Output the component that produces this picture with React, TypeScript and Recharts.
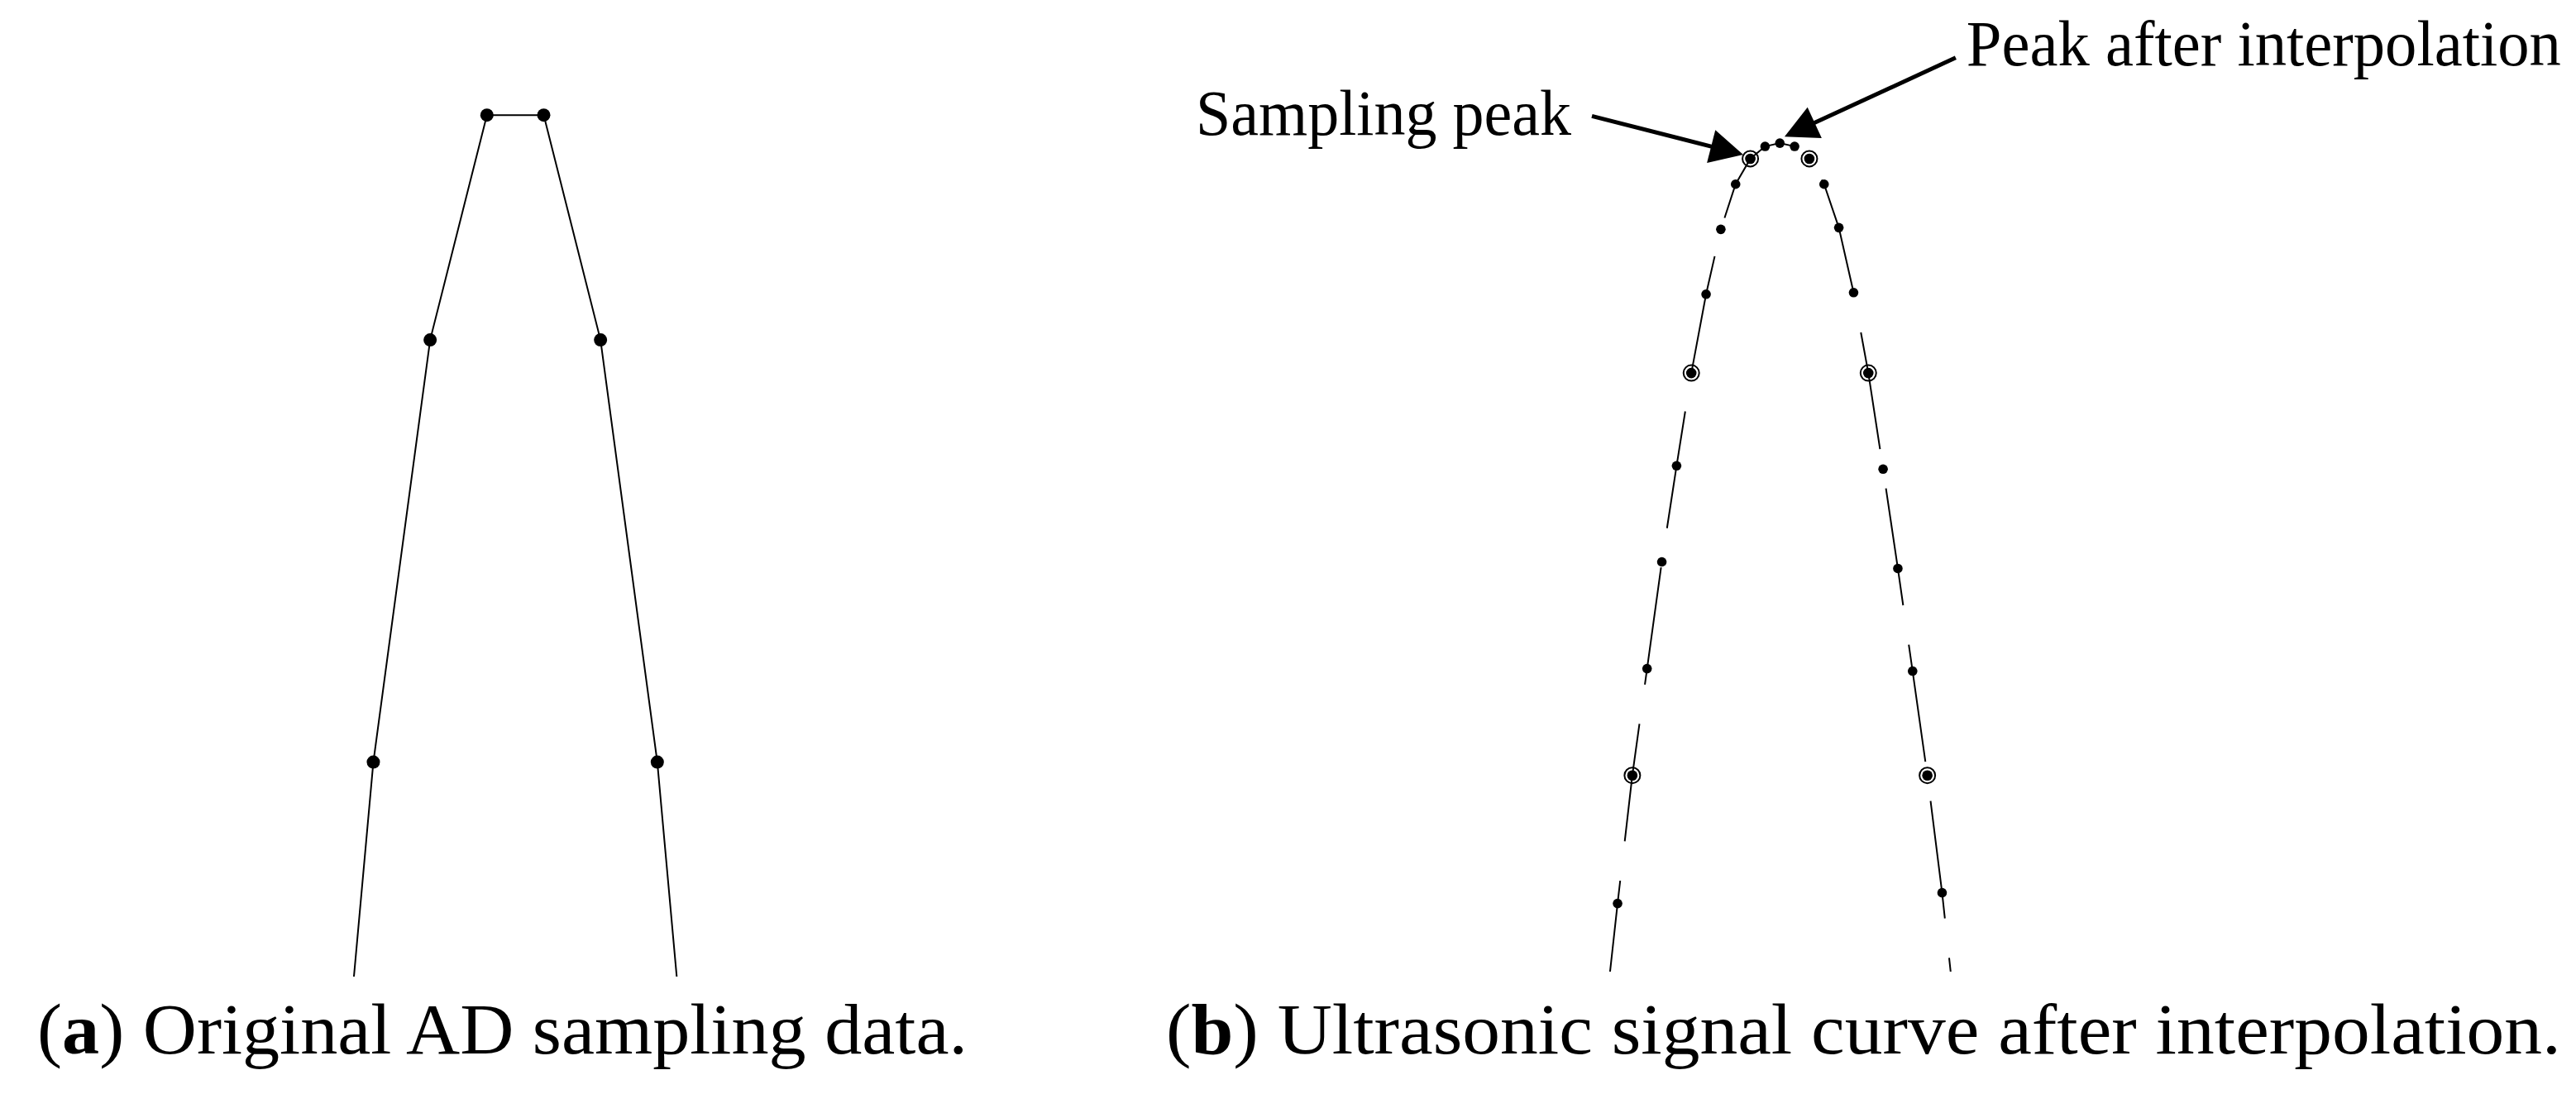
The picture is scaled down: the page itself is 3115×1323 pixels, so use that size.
import React from 'react'
import { LineChart, Line, XAxis, YAxis, ReferenceLine } from 'recharts'

// AD samples (index, amplitude); first/last fall below the visible window
const SAMPLE_X = [-1, 0, 1, 2, 3, 4, 5, 6]
const SAMPLE_Y = [-479, 249, 739, 1000, 1000, 739, 249, -479]

// 4x interpolated curve around the peak
const INTERP_X = [
    -0.5, -0.25, 0, 0.25, 0.5, 0.75, 1, 1.25, 1.5, 1.75, 2, 2.25, 2.5,
    2.75, 3, 3.25, 3.5, 3.75, 4, 4.25, 4.5, 4.75, 5, 5.25, 5.5
]
const INTERP_Y = [
    -70, 93, 249, 379, 509, 626, 739, 835, 914, 969, 1000, 1015, 1019,
    1015, 1000, 969, 916, 837, 739, 622, 501, 376, 249, 106, -60
]

// annotation arrows: [tail, tip] in data coords of panel (b)
const SAMPLING_ARROW = [{ x: -0.685, y: 1052 }, { x: 1.879, y: 1005 }]
const INTERP_ARROW = [{ x: 5.48, y: 1123 }, { x: 2.58, y: 1027 }]

const CAPTION_A = 'Original AD sampling data.'
const CAPTION_B = 'Ultrasonic signal curve after interpolation.'

const SERIF = '"Liberation Serif", "Times New Roman", serif'

const dataA = SAMPLE_X.map((x, i) => ({ x, value: SAMPLE_Y[i] }))

const sampleAt = new Map(SAMPLE_X.map((x, i) => [x, SAMPLE_Y[i]]))
const dataB = INTERP_X.map((x, i) => ({
    x,
    interp: INTERP_Y[i],
    sample: sampleAt.has(x) ? sampleAt.get(x) : null
}))

// ring + dot for the original sampling points
function SampleRing(props: any) {
    const { cx, cy, index, value } = props
    if (value == null || cx == null || cy == null) return <g key={`ring-${index}`} />
    return (
        <g key={`ring-${index}`}>
            <circle cx={cx} cy={cy} r={9.5} fill="none" stroke="#000" strokeWidth={2} />
            <circle cx={cx} cy={cy} r={6.3} fill="#000" />
        </g>
    )
}

function arrowShape(text: string, anchor: 'start' | 'end', tx: number, ty: number, textLength: number) {
    return (p: any) => {
        const { x1, y1, x2, y2 } = p
        const dx = x2 - x1
        const dy = y2 - y1
        const len = Math.hypot(dx, dy) || 1
        const ux = dx / len
        const uy = dy / len
        const head = 40
        const half = 20.5
        const bx = x2 - ux * head
        const by = y2 - uy * head
        return (
            <g>
                <line x1={x1} y1={y1} x2={bx + ux * 2} y2={by + uy * 2} stroke="#000" strokeWidth={5} />
                <polygon
                    points={`${x2},${y2} ${bx - uy * half},${by + ux * half} ${bx + uy * half},${by - ux * half}`}
                    fill="#000"
                />
                <text
                    x={x1 + tx}
                    y={y1 + ty}
                    textAnchor={anchor}
                    fontFamily={SERIF}
                    fontSize={78}
                    textLength={textLength}
                    lengthAdjust="spacingAndGlyphs"
                    fill="#000"
                >
                    {text}
                </text>
            </g>
        )
    }
}

export default function App() {
    return (
        <div style={{ position: 'absolute', left: 0, top: 0, width: 3115, height: 1323, background: '#fff', overflow: 'hidden' }}>
            {/* (a) raw samples */}
            <div style={{ position: 'absolute', left: 0, top: 0 }}>
                <LineChart width={900} height={1200} data={dataA} margin={{ top: 35, right: 36.5, bottom: 19, left: 382.8 }}>
                    <XAxis type="number" dataKey="x" domain={[-1, 6]} hide />
                    <YAxis type="number" domain={[0, 1100]} allowDataOverflow hide />
                    <Line
                        type="linear"
                        dataKey="value"
                        stroke="#000"
                        strokeWidth={2}
                        dot={{ r: 8, fill: '#000', stroke: 'none' }}
                        isAnimationActive={false}
                    />
                </LineChart>
            </div>

            {/* (b) interpolated curve */}
            <div style={{ position: 'absolute', left: 1400, top: 0 }}>
                <LineChart width={1715} height={1200} data={dataB} margin={{ top: 43, right: 748.7, bottom: 25, left: 538.2 }}>
                    <XAxis type="number" dataKey="x" domain={[-0.5, 5.5]} hide />
                    <YAxis type="number" domain={[10, 1150]} allowDataOverflow hide />
                    <Line
                        type="linear"
                        dataKey="interp"
                        stroke="#000"
                        strokeWidth={2}
                        strokeDasharray="143 48"
                        strokeDashoffset={143.4}
                        dot={{ r: 5.8, fill: '#000', stroke: 'none' }}
                        isAnimationActive={false}
                    />
                    <Line
                        type="linear"
                        dataKey="sample"
                        stroke="none"
                        dot={SampleRing}
                        isAnimationActive={false}
                    />
                    <ReferenceLine
                        segment={SAMPLING_ARROW}
                        ifOverflow="visible"
                        shape={arrowShape('Sampling peak', 'end', -25, 23, 454)}
                    />
                    <ReferenceLine
                        segment={INTERP_ARROW}
                        ifOverflow="visible"
                        shape={arrowShape('Peak after interpolation', 'start', 13, 9, 719)}
                    />
                </LineChart>
            </div>

            {/* captions */}
            <svg width={3115} height={143} style={{ position: 'absolute', left: 0, top: 1180 }}>
                <text x={45} y={94} fontFamily={SERIF} fontSize={86} textLength={1125} lengthAdjust="spacingAndGlyphs" fill="#000">
                    (<tspan fontWeight="bold">a</tspan>) {CAPTION_A}
                </text>
                <text x={1410} y={94} fontFamily={SERIF} fontSize={86} textLength={1687} lengthAdjust="spacingAndGlyphs" fill="#000">
                    (<tspan fontWeight="bold">b</tspan>) {CAPTION_B}
                </text>
            </svg>
        </div>
    )
}
